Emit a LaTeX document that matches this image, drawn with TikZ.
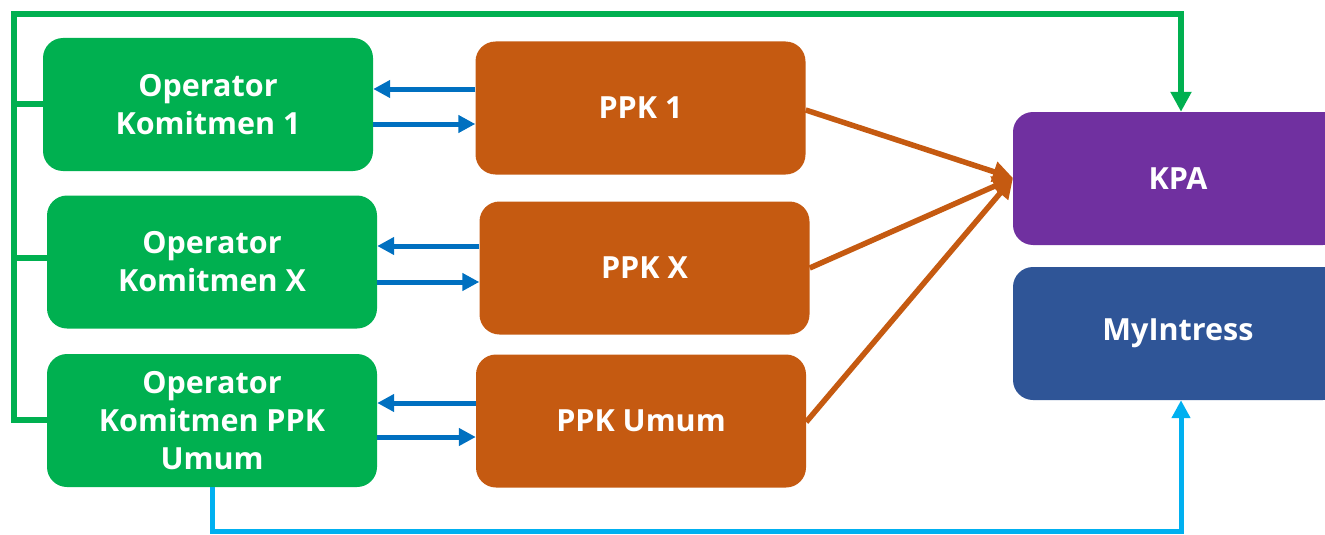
\documentclass[tikz,border=0pt]{standalone}
\usepackage{fontspec}
\setmainfont{Open Sans}
\usetikzlibrary{arrows.meta}
\definecolor{cgreen}{HTML}{00B050}
\definecolor{corange}{HTML}{C55A11}
\definecolor{cpurple}{HTML}{7030A0}
\definecolor{cnavy}{HTML}{2F5597}
\definecolor{cblue}{HTML}{0070C0}
\definecolor{ccyan}{HTML}{00B0F0}
\tikzset{
  box/.style={rectangle, rounded corners=20pt, minimum width=330pt, minimum height=133pt, inner sep=0pt,
    text=white, align=center, font=\bfseries\fontsize{30.5}{38}\selectfont},
  gbox/.style={box, fill=cgreen},
  obox/.style={box, fill=corange},
  gl/.style={draw=cgreen, line width=5.5pt},
  bl/.style={draw=cblue, line width=5pt, -{Triangle[length=17pt,width=17pt]}},
  ol/.style={draw=corange, line width=5.5pt, -{Triangle[length=20pt,width=20pt]}},
  cl/.style={draw=ccyan, line width=5pt},
}
\begin{document}
\begin{tikzpicture}[x=1pt,y=-1pt]
\useasboundingbox (0,0) rectangle (1325,535);
\node[gbox] (op1) at (208,104.5) {Operator\\Komitmen 1};
\node[gbox] (opx) at (212,262) {Operator\\Komitmen X};
\node[gbox] (opu) at (212,420.5) {Operator\\Komitmen PPK\\Umum};
\node[obox] (ppk1) at (640.5,108) {PPK 1};
\node[obox] (ppkx) at (644.5,268) {PPK X};
\node[obox] (ppku) at (641,421) {PPK Umum};
\node[box, fill=cpurple] (kpa) at (1178,178.5) {KPA};
\node[box, fill=cnavy] (myi) at (1178,333.5) {MyIntress};
\coordinate (tl) at (14,14);
\coordinate (bl) at (14,420);
% green feedback line
\draw[gl, -{Triangle[length=20pt,width=20pt]}] (opu.west |- bl) -- (bl) -- (tl) -| ([xshift=3pt]kpa.north);
\draw[gl] (op1.west |- 0,104) -- (14,104);
\draw[gl] (opx.west |- 0,258) -- (14,258);
% blue arrows
\draw[bl] (ppk1.west |- 0,89) -- (op1.east |- 0,89);
\draw[bl] (op1.east |- 0,124) -- (ppk1.west |- 0,124);
\draw[bl] (ppkx.west |- 0,246) -- (opx.east |- 0,246);
\draw[bl] (opx.east |- 0,282) -- (ppkx.west |- 0,282);
\draw[bl] (ppku.west |- 0,403) -- (opu.east |- 0,403);
\draw[bl] (opu.east |- 0,437) -- (ppku.west |- 0,437);
% orange arrows
\coordinate (kin) at (1013,178);
\draw[ol] (ppk1.east |- 0,110) -- (kin);
\draw[ol] (ppkx.east |- 0,268) -- (kin);
\draw[ol] (ppku.east |- 0,422) -- (kin);
% cyan line
\draw[cl, -{Triangle[length=18pt,width=18pt]}] (opu.south) -- (212,531) -| ([xshift=3pt]myi.south);
\end{tikzpicture}
\end{document}
